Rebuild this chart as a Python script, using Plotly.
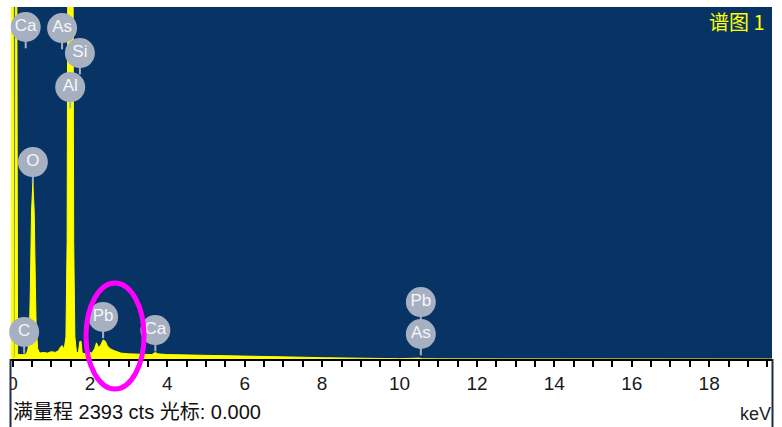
import plotly.graph_objects as go

# ---- data ----
energy_keV = [-0.04, 0.02, 0.03, 0.06, 0.07, 0.11, 0.13, 0.18, 0.25, 0.30, 0.36, 0.40,
              0.44, 0.46, 0.49, 0.525, 0.56, 0.59, 0.61, 0.65, 0.70, 0.80, 0.90, 1.00,
              1.10, 1.18, 1.25, 1.29, 1.33, 1.38, 1.41, 1.43, 1.56, 1.58, 1.61, 1.65,
              1.70, 1.74, 1.77, 1.80, 1.90, 2.00, 2.05, 2.12, 2.17, 2.22, 2.28, 2.34,
              2.40, 2.45, 2.52, 2.60, 2.70, 2.80, 3.00, 3.30, 3.60, 3.69, 3.75, 4.00,
              4.50, 5.00, 5.50, 6.00, 6.50, 7.00, 7.50, 8.00, 8.50, 9.00, 9.50, 9.70,
              9.80, 10.00, 10.50, 10.60, 11.00, 19.70]
counts = [2600, 2600, 10, 10, 2600, 2600, 30, 28, 30, 32, 35, 70,
          220, 480, 1000, 1200, 1000, 500, 220, 70, 40, 45, 40, 50,
          45, 55, 85, 90, 60, 150, 800, 3000, 3000, 800, 150, 50,
          40, 120, 120, 40, 35, 45, 40, 70, 110, 80, 95, 130,
          120, 90, 70, 60, 50, 40, 35, 32, 30, 45, 35, 30,
          28, 25, 24, 22, 18, 14, 12, 9, 7, 5, 4, 7,
          2, 2, 6, 2, 1, 0]

full_scale_cts = 2393
elements = ["Ca", "As", "Si", "Al", "O", "C", "Pb", "Ca", "Pb", "As"]
element_keV = [0.34, 1.28, 1.74, 1.49, 0.525, 0.30, 2.34, 3.69, 10.55, 10.55]
label_cts = [2257, 2250, 2080, 1849, 1339, 184, 286, 197, 387, 170]

tick_vals = [0, 2, 4, 6, 8, 10, 12, 14, 16, 18]
tick_text = ["0", "2", "4", "6", "8", "10", "12", "14", "16", "18"]

# ---- layout geometry (pixels) ----
W, H = 782, 427
L, R, T, B = 11, 772, 7, 359
def px(p):
    return (p - L) / (R - L)
def py(p):
    return (B - p) / (B - T)

BG = "#083365"
YEL = "#FFFF00"
GREY = "#A6B0C0"
stem_cts = 145

fig = go.Figure()

fig.add_trace(go.Scatter(
    x=energy_keV, y=counts, mode="lines", fill="tozeroy",
    fillcolor=YEL, line=dict(color=YEL, width=1), hoverinfo="skip",
    showlegend=False))

# stems
for e, c in zip(element_keV, label_cts):
    fig.add_trace(go.Scatter(
        x=[e, e], y=[c, c - stem_cts], mode="lines",
        line=dict(color=GREY, width=2), showlegend=False, hoverinfo="skip",
        cliponaxis=False))

fig.add_trace(go.Scatter(
    x=element_keV, y=label_cts, mode="markers+text", text=elements,
    textposition="middle center",
    textfont=dict(family="Liberation Sans, Arial", size=17, color="#F4F6FA"),
    marker=dict(symbol="circle", size=30, color=GREY, line=dict(width=0)),
    showlegend=False, hoverinfo="skip", cliponaxis=False))

shapes = [
    # magenta ellipse around Pb
    dict(type="circle", xref="paper", yref="paper",
         x0=px(86), x1=px(144), y0=py(389), y1=py(283),
         line=dict(color="#FF00FF", width=5), layer="above"),
    # white mask left of frame
    dict(type="rect", xref="paper", yref="paper",
         x0=px(-5), x1=px(10), y0=py(H + 5), y1=py(B + 1),
         fillcolor="white", line=dict(width=0), layer="above"),
    # frame lines below plot
    dict(type="line", xref="paper", yref="paper",
         x0=px(10.5), x1=px(10.5), y0=py(B), y1=py(H + 2),
         line=dict(color="#1F2C44", width=2), layer="above"),
    dict(type="line", xref="paper", yref="paper",
         x0=px(772.5), x1=px(772.5), y0=py(B), y1=py(H + 2),
         line=dict(color="#1F2C44", width=2), layer="above"),
]

annotations = [
    dict(text="谱图 1", xref="paper", yref="paper", x=px(767), y=py(21),
         xanchor="right", yanchor="middle", showarrow=False,
         font=dict(family="Noto Sans CJK SC, Liberation Sans", size=20, color=YEL)),
    dict(text="满量程 2393 cts 光标: 0.000", xref="paper", yref="paper",
         x=px(11), y=py(412), xanchor="left", yanchor="middle", showarrow=False,
         font=dict(family="Liberation Sans, Noto Sans CJK SC", size=20, color="#111111")),
    dict(text="keV", xref="paper", yref="paper", x=px(773), y=py(414),
         xanchor="right", yanchor="middle", showarrow=False,
         font=dict(family="Liberation Sans, Arial", size=18, color="#222222")),
]

fig.update_layout(
    width=W, height=H, margin=dict(l=L, r=W - R, t=T, b=H - B, pad=0),
    paper_bgcolor="white", plot_bgcolor=BG,
    shapes=shapes, annotations=annotations, showlegend=False,
    xaxis=dict(range=[-0.04, -0.04 + (R - L) / 38.7], showgrid=False, zeroline=False,
               showline=True, linecolor="black", linewidth=2,
               ticks="outside", ticklen=6, tickwidth=1.5, tickcolor="black",
               tickvals=tick_vals, ticktext=tick_text,
               tickfont=dict(family="Liberation Sans, Arial", size=19, color="#1A1A1A"),
               minor=dict(dtick=0.5, ticks="outside", ticklen=6, tickwidth=1.5,
                          tickcolor="black", showgrid=False)),
    yaxis=dict(range=[0, full_scale_cts], visible=False, showgrid=False, zeroline=False),
)

fig.write_html("out.html")
